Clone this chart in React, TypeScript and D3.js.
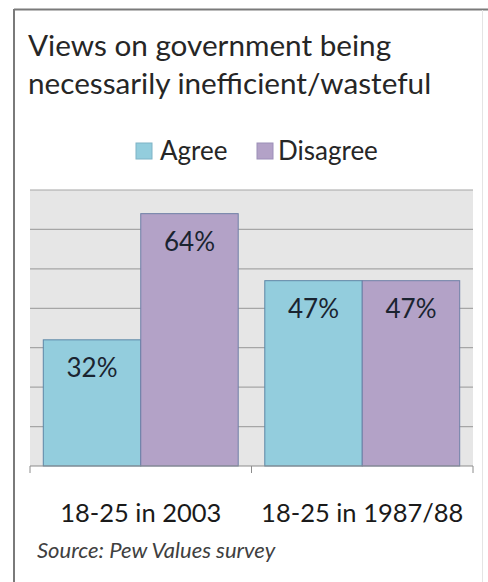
import React from "react";
import * as d3 from "d3";

const categories = ["18-25 in 2003", "18-25 in 1987/88"];
const seriesNames = ["Agree", "Disagree"];
const agreeValues = [32, 47];
const disagreeValues = [64, 47];
const yTicks = [0, 10, 20, 30, 40, 50, 60, 70];
const titleLines = ["Views on government being", "necessarily inefficient/wasteful"];
const sourceText = "Source: Pew Values survey";

const colors: Record<string, string> = { Agree: "#93CDDD", Disagree: "#B3A2C7" };
const strokeColors: Record<string, string> = { Agree: "#5C86A6", Disagree: "#6E7FA6" };

const W = 488;
const H = 582;
const FONT = "Lato, 'Open Sans', sans-serif";

export default function App() {
  const plot = { left: 30, right: 473, top: 190, bottom: 466 };

  const x0 = d3
    .scaleBand<string>()
    .domain(categories)
    .range([plot.left, plot.right])
    .paddingInner(0.12)
    .paddingOuter(0.06);
  const x1 = d3.scaleBand<string>().domain(seriesNames).range([0, x0.bandwidth()]);
  const y = d3.scaleLinear().domain([0, 70]).range([plot.bottom, plot.top]);

  const rows = categories.map((c, i) => ({
    category: c,
    values: [
      { key: "Agree", value: agreeValues[i] },
      { key: "Disagree", value: disagreeValues[i] },
    ],
  }));

  const step = (plot.right - plot.left) / categories.length;
  const tickXs = d3.range(categories.length + 1).map((i) => plot.left + i * step);

  return (
    <svg
      width={W}
      height={H}
      style={{ position: "absolute", left: 0, top: 0, background: "#fff" }}
    >
      {/* frame */}
      <rect x={0} y={0} width={W} height={H} fill="#fff" />
      <line x1={14} y1={9.5} x2={W} y2={9.5} stroke="#7a7a7a" strokeWidth={2} />
      <line x1={14} y1={9} x2={14} y2={H} stroke="#7a7a7a" strokeWidth={2} />
      <line x1={482.5} y1={10} x2={482.5} y2={H} stroke="#e4e4e4" strokeWidth={1} />

      {/* title */}
      {titleLines.map((t, i) => (
        <text
          key={t}
          x={28}
          y={56 + i * 38}
          fontFamily={FONT}
          fontSize={29.7}
          fill="#262626"
        >
          {t}
        </text>
      ))}

      {/* legend */}
      <g fontFamily={FONT} fontSize={26} fill="#262626">
        <rect x={136} y={143} width={16} height={16} fill={colors.Agree} stroke="#7fb3c6" />
        <text x={160} y={160}>Agree</text>
        <rect x={257} y={143} width={16} height={16} fill={colors.Disagree} stroke="#9c8fb8" />
        <text x={278} y={160}>Disagree</text>
      </g>

      {/* plot background and gridlines */}
      <rect
        x={plot.left}
        y={plot.top}
        width={plot.right - plot.left}
        height={plot.bottom - plot.top}
        fill="#e6e6e6"
      />
      {yTicks.slice(1).map((t) => (
        <line
          key={t}
          x1={plot.left}
          x2={plot.right}
          y1={y(t)}
          y2={y(t)}
          stroke="#a6a6a6"
          strokeWidth={1.2}
        />
      ))}

      {/* bars */}
      {rows.map((r) => (
        <g key={r.category} transform={`translate(${x0(r.category)},0)`}>
          {r.values.map((v) => (
            <g key={v.key}>
              <rect
                x={x1(v.key)}
                y={y(v.value)}
                width={x1.bandwidth()}
                height={y(0) - y(v.value)}
                fill={colors[v.key]}
                stroke={strokeColors[v.key]}
                strokeWidth={1}
              />
              <text
                x={(x1(v.key) ?? 0) + x1.bandwidth() / 2}
                y={y(v.value) + 37}
                textAnchor="middle"
                fontFamily={FONT}
                fontSize={26}
                fill="#1a2430"
              >
                {v.value}%
              </text>
            </g>
          ))}
        </g>
      ))}

      {/* x axis */}
      <line x1={plot.left} x2={plot.right} y1={plot.bottom} y2={plot.bottom} stroke="#8c8c8c" strokeWidth={1} />
      {tickXs.map((tx) => (
        <line key={tx} x1={tx} x2={tx} y1={plot.bottom} y2={plot.bottom + 7} stroke="#8c8c8c" strokeWidth={1} />
      ))}
      {categories.map((c) => (
        <text
          key={c}
          x={(x0(c) ?? 0) + x0.bandwidth() / 2}
          y={522}
          textAnchor="middle"
          fontFamily={FONT}
          fontSize={25.5}
          fill="#1a1a1a"
        >
          {c}
        </text>
      ))}

      {/* source note */}
      <text x={37} y={558} fontFamily={FONT} fontSize={22} fontStyle="italic" fill="#404040">
        {sourceText}
      </text>
    </svg>
  );
}
